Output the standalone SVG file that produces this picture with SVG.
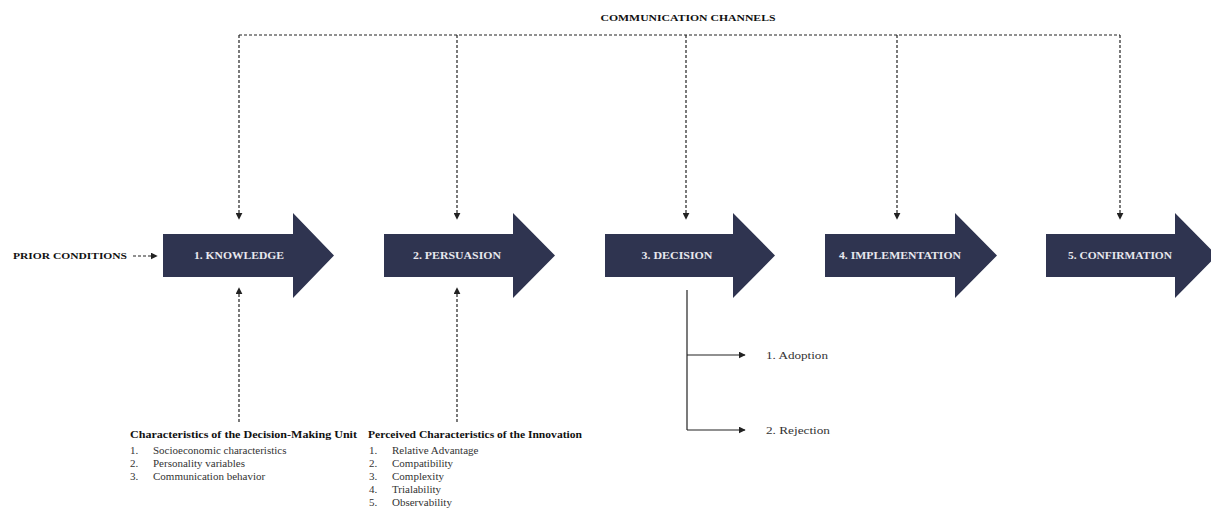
<svg xmlns="http://www.w3.org/2000/svg" width="1211" height="510" viewBox="0 0 1211 510">
<style>
.stage{fill:#2f3450}
.stxt{font-family:"Liberation Serif",serif;font-weight:bold;font-size:10.5px;fill:#e8e8ee;text-anchor:middle}
.dash{stroke:#222;stroke-width:1.2;stroke-dasharray:3 2;fill:none}
.solid{stroke:#222;stroke-width:1.2;fill:none}
.lbl{font-family:"Liberation Serif",serif;font-size:11px;fill:#333}
.hdr{font-family:"Liberation Serif",serif;font-size:10.5px;font-weight:bold;fill:#111}
.cap{font-family:"Liberation Serif",serif;font-size:9px;font-weight:bold;fill:#111}
</style>
<defs>
<marker id="ah" viewBox="0 0 10 10" refX="9" refY="5" markerWidth="7" markerHeight="7" markerUnits="userSpaceOnUse" orient="auto">
<path d="M0,0 L10,5 L0,10 z" fill="#222"/>
</marker>
</defs>
<rect width="1211" height="510" fill="#fff"/>

<text class="cap" x="688" y="21" text-anchor="middle" textLength="175" lengthAdjust="spacingAndGlyphs">COMMUNICATION CHANNELS</text>

<g id="connectors">
<path class="dash" d="M239,35 H1120"/>
<path class="dash" d="M239,35 V219" marker-end="url(#ah)"/>
<path class="dash" d="M457,35 V219" marker-end="url(#ah)"/>
<path class="dash" d="M686,35 V219" marker-end="url(#ah)"/>
<path class="dash" d="M897,35 V219" marker-end="url(#ah)" stroke-width="0.8"/>
<path class="dash" d="M1120,35 V219" marker-end="url(#ah)"/>
<path class="dash" d="M239,422 V288" marker-end="url(#ah)"/>
<path class="dash" d="M457,422 V288" marker-end="url(#ah)"/>
<path class="dash" d="M133,256 H157" marker-end="url(#ah)"/>
<path class="solid" d="M687,290 V430"/>
<path class="solid" d="M687,355 H745" marker-end="url(#ah)"/>
<path class="solid" d="M687,430 H745" marker-end="url(#ah)"/>
</g>

<g id="prior">
<text class="cap" x="13" y="259" textLength="114" lengthAdjust="spacingAndGlyphs">PRIOR CONDITIONS</text>
</g>

<g id="knowledge">
<polygon class="stage" points="163,234 293,234 293,213 334,255.5 293,298 293,277 163,277"/>
<text class="stxt" x="239" y="259" textLength="90" lengthAdjust="spacingAndGlyphs">1. KNOWLEDGE</text>
</g>
<g id="persuasion">
<polygon class="stage" points="384,234 513,234 513,213 555,255.5 513,298 513,277 384,277"/>
<text class="stxt" x="457" y="259" textLength="88" lengthAdjust="spacingAndGlyphs">2. PERSUASION</text>
</g>
<g id="decision">
<polygon class="stage" points="605,234 733,234 733,213 775,255.5 733,298 733,277 605,277"/>
<text class="stxt" x="677" y="259" textLength="71" lengthAdjust="spacingAndGlyphs">3. DECISION</text>
</g>
<g id="implementation">
<polygon class="stage" points="825,234 955,234 955,213 997,255.5 955,298 955,277 825,277"/>
<text class="stxt" x="900" y="259" textLength="122" lengthAdjust="spacingAndGlyphs">4. IMPLEMENTATION</text>
</g>
<g id="confirmation">
<polygon class="stage" points="1046,234 1175,234 1175,213 1217,255.5 1175,298 1175,277 1046,277"/>
<text class="stxt" x="1120" y="259" textLength="104" lengthAdjust="spacingAndGlyphs">5. CONFIRMATION</text>
</g>

<g id="adoption">
<text class="lbl" x="766" y="359" textLength="62" lengthAdjust="spacingAndGlyphs">1. Adoption</text>
</g>
<g id="rejection">
<text class="lbl" x="766" y="434" textLength="64" lengthAdjust="spacingAndGlyphs">2. Rejection</text>
</g>

<g id="dmu">
<text class="hdr" x="130" y="438" textLength="227" lengthAdjust="spacingAndGlyphs">Characteristics of the Decision-Making Unit</text>
<text class="lbl" x="130" y="454">1.</text><text class="lbl" x="153" y="454">Socioeconomic characteristics</text>
<text class="lbl" x="130" y="467">2.</text><text class="lbl" x="153" y="467">Personality variables</text>
<text class="lbl" x="130" y="480">3.</text><text class="lbl" x="153" y="480">Communication behavior</text>
</g>

<g id="perceived">
<text class="hdr" x="368" y="438" textLength="214" lengthAdjust="spacingAndGlyphs">Perceived Characteristics of the Innovation</text>
<text class="lbl" x="369" y="454">1.</text><text class="lbl" x="392" y="454">Relative Advantage</text>
<text class="lbl" x="369" y="467">2.</text><text class="lbl" x="392" y="467">Compatibility</text>
<text class="lbl" x="369" y="480">3.</text><text class="lbl" x="392" y="480">Complexity</text>
<text class="lbl" x="369" y="493">4.</text><text class="lbl" x="392" y="493">Trialability</text>
<text class="lbl" x="369" y="506">5.</text><text class="lbl" x="392" y="506">Observability</text>
</g>
</svg>
